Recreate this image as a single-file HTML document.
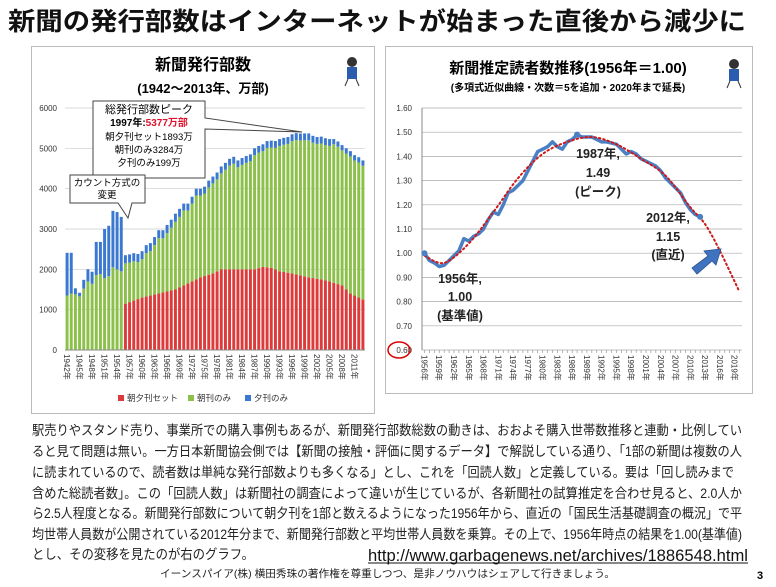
<!DOCTYPE html>
<html><head><meta charset="utf-8"><style>
body{margin:0;background:#fff;}
svg{display:block;font-family:"Liberation Sans","Noto Sans CJK JP",sans-serif;}
</style></head><body>
<svg id="s" width="776" height="587" viewBox="0 0 776 587" xmlns="http://www.w3.org/2000/svg">
<text x="8" y="30" font-size="25" font-weight="bold" textLength="738" lengthAdjust="spacingAndGlyphs" fill="#111">新聞の発行部数はインターネットが始まった直後から減少に</text>
<rect x="31.5" y="46.5" width="343" height="367" fill="#fff" stroke="#bbb"/>
<rect x="385.5" y="46.5" width="367" height="347" fill="#fff" stroke="#bbb"/>
<text x="203" y="70" font-size="16" font-weight="bold" text-anchor="middle">新聞発行部数</text>
<text x="203" y="93" font-size="13" font-weight="bold" text-anchor="middle">(1942〜2013年、万部)</text>
<text x="568" y="73" font-size="15" font-weight="bold" text-anchor="middle">新聞推定読者数推移(1956年＝1.00)</text>
<text x="568" y="91" font-size="10" font-weight="bold" text-anchor="middle">(多項式近似曲線・次数＝5を追加・2020年まで延長)</text>
<g id="L"></g><g id="R"></g>
<g transform="translate(352,72)"><circle cx="0" cy="-10" r="5" fill="#333"/><rect x="-5" y="-5" width="10" height="12" fill="#2a5db0"/><line x1="-4" y1="7" x2="-7" y2="14" stroke="#333"/><line x1="4" y1="7" x2="7" y2="14" stroke="#333"/></g>
<g transform="translate(734,74)"><circle cx="0" cy="-10" r="5" fill="#333"/><rect x="-5" y="-5" width="10" height="12" fill="#2a5db0"/><line x1="-4" y1="7" x2="-7" y2="14" stroke="#333"/><line x1="4" y1="7" x2="7" y2="14" stroke="#333"/></g>
<g font-size="13.5" fill="#222">
<text x="32" y="435" textLength="710" lengthAdjust="spacingAndGlyphs">駅売りやスタンド売り、事業所での購入事例もあるが、新聞発行部数総数の動きは、おおよそ購入世帯数推移と連動・比例してい</text>
<text x="32" y="456" textLength="710" lengthAdjust="spacingAndGlyphs">ると見て問題は無い。一方日本新聞協会側では【新聞の接触・評価に関するデータ】で解説している通り、「1部の新聞は複数の人</text>
<text x="32" y="477" textLength="702" lengthAdjust="spacingAndGlyphs">に読まれているので、読者数は単純な発行部数よりも多くなる」とし、これを「回読人数」と定義している。要は「回し読みまで</text>
<text x="32" y="498" textLength="710" lengthAdjust="spacingAndGlyphs">含めた総読者数」。この「回読人数」は新聞社の調査によって違いが生じているが、各新聞社の試算推定を合わせ見ると、2.0人か</text>
<text x="32" y="518" textLength="710" lengthAdjust="spacingAndGlyphs">ら2.5人程度となる。新聞発行部数について朝夕刊を1部と数えるようになった1956年から、直近の「国民生活基礎調査の概況」で平</text>
<text x="32" y="539" textLength="710" lengthAdjust="spacingAndGlyphs">均世帯人員数が公開されている2012年分まで、新聞発行部数と平均世帯人員数を乗算。その上で、1956年時点の結果を1.00(基準値)</text>
<text x="32" y="559" textLength="222" lengthAdjust="spacingAndGlyphs">とし、その変移を見たのが右のグラフ。</text>
</g>
<text x="368" y="561" font-size="17" textLength="380" lengthAdjust="spacingAndGlyphs" fill="#111">http://www.garbagenews.net/archives/1886548.html</text>
<line x1="368" y1="563" x2="748" y2="563" stroke="#111"/>
<text x="160" y="577" font-size="10.5" textLength="455" lengthAdjust="spacingAndGlyphs" fill="#222">イーンスパイア(株) 横田秀珠の著作権を尊重しつつ、是非ノウハウはシェアして行きましょう。</text>
<text x="757" y="579" font-size="11" font-weight="bold">3</text>
</svg>
<script>
const NS="http://www.w3.org/2000/svg";
function el(p,t,a,txt){const e=document.createElementNS(NS,t);for(const k in a)e.setAttribute(k,a[k]);if(txt!==undefined)e.textContent=txt;p.appendChild(e);return e;}
const L=document.getElementById('L'),R=document.getElementById('R');
const x0=65,x1=365,y0=350,yt=108,sc=(y0-yt)/6000;
for(let v=0;v<=6000;v+=1000){const y=y0-v*sc;el(L,'line',{x1:x0,x2:x1,y1:y,y2:y,stroke:'#ccc','stroke-width':0.7});el(L,'text',{x:57,y:y+3,'font-size':8,'text-anchor':'end',fill:'#333'},v);}
const pre=[[1350,1060],[1400,1010],[1380,150],[1330,90],[1520,220],[1700,300],[1640,300],[1860,820],[1880,800],[1780,1220],[1830,1250],[2050,1400],[2000,1420],[1950,1350]];
const tot=[2350,2370,2400,2380,2450,2600,2650,2800,2970,2970,3100,3230,3380,3500,3630,3630,3800,4000,4000,4050,4200,4300,4400,4550,4640,4740,4790,4700,4760,4810,4850,5000,5060,5100,5180,5190,5180,5230,5260,5280,5350,5377,5367,5370,5370,5310,5280,5290,5250,5230,5230,5170,5080,5000,4930,4830,4780,4700];
const rk=[[1956,1150],[1960,1300],[1964,1400],[1968,1500],[1971,1650],[1974,1800],[1977,1900],[1979,2000],[1987,2000],[1989,2060],[1991,2040],[1993,1950],[1996,1900],[1998,1850],[2000,1800],[2003,1750],[2005,1700],[2008,1600],[2010,1400],[2012,1300],[2013,1250]];
function red(y){for(let i=0;i<rk.length-1;i++){if(y>=rk[i][0]&&y<=rk[i+1][0]){const t=(y-rk[i][0])/(rk[i+1][0]-rk[i][0]);return rk[i][1]+t*(rk[i+1][1]-rk[i][1]);}}return 1250;}
const sw=(x1-x0)/72;
for(let i=0;i<72;i++){const yr=1942+i,bx=x0+i*sw+0.6,bw=sw-1.2;let segs;
 if(i<14)segs=[[pre[i][0],'#8cc04b'],[pre[i][1],'#3b78d0']];
 else{const T=tot[i-14],r=red(yr),b=yr<1970?200:(yr>2005?130:170);segs=[[r,'#dd3b3b'],[T-r-b,'#8cc04b'],[b,'#3b78d0']];}
 let acc=0;for(const [v,c] of segs){el(L,'rect',{x:bx,y:y0-(acc+v)*sc,width:bw,height:v*sc,fill:c});acc+=v;}
 if(i%3==0)el(L,'text',{transform:`translate(${bx+bw/2-3},${y0+4}) rotate(90)`,'font-size':8,fill:'#333'},yr+'年');
}
el(L,'line',{x1:x0,x2:x1,y1:y0,y2:y0,stroke:'#888'});
[['#dd3b3b',118,'朝夕刊セット'],['#8cc04b',188,'朝刊のみ'],['#3b78d0',245,'夕刊のみ']].forEach(([c,x,t])=>{el(L,'rect',{x:x,y:395,width:6,height:6,fill:c});el(L,'text',{x:x+9,y:401,'font-size':8.5,fill:'#333'},t);});
el(L,'path',{d:'M93 101 H205 V118 L302 132 L205 129 V178 H93 Z',fill:'#fff',stroke:'#444','stroke-width':1});
el(L,'text',{x:149,y:113,'font-size':11,'text-anchor':'middle'},'総発行部数ピーク');
const t2=el(L,'text',{x:149,y:126,'font-size':10,'text-anchor':'middle','font-weight':'bold'},'1997年:');
el(t2,'tspan',{fill:'#e0102a'},'5377万部');
el(L,'text',{x:149,y:140,'font-size':9.5,'text-anchor':'middle'},'朝夕刊セット1893万');
el(L,'text',{x:149,y:153,'font-size':9.5,'text-anchor':'middle'},'朝刊のみ3284万');
el(L,'text',{x:149,y:166,'font-size':9.5,'text-anchor':'middle'},'夕刊のみ199万');
el(L,'path',{d:'M70 175 H145 V203 H132 L128 218 L118 203 H70 Z',fill:'#fff',stroke:'#444','stroke-width':1});
el(L,'text',{x:107,y:186,'font-size':9.5,'text-anchor':'middle'},'カウント方式の');
el(L,'text',{x:107,y:198,'font-size':9.5,'text-anchor':'middle'},'変更');
const rx0=422,rx1=742,ry0=350,ryt=108,rsc=(ry0-ryt)/1.0,rw=(rx1-rx0)/65;
for(let k=0;k<=10;k++){const v=0.6+k*0.1,y=ry0-(v-0.6)*rsc;el(R,'line',{x1:rx0,x2:rx1,y1:y,y2:y,stroke:'#aaa','stroke-width':0.7});el(R,'text',{x:412,y:y+3,'font-size':8,'text-anchor':'end',fill:'#333'},v.toFixed(2));}
el(R,'line',{x1:rx0,x2:rx0,y1:ryt,y2:ry0,stroke:'#888'});
el(R,'ellipse',{cx:399,cy:350,rx:11,ry:8,fill:'none',stroke:'#d00','stroke-width':1.5});
for(let i=0;i<65;i++){const x=rx0+i*rw+rw/2;el(R,'line',{x1:x,x2:x,y1:ry0,y2:ry0+3,stroke:'#888','stroke-width':0.6});if(i%3==0)el(R,'text',{transform:`translate(${x-3},${ry0+5}) rotate(90)`,'font-size':8,fill:'#333'},(1956+i)+'年');}
const d=[1.00,0.97,0.96,0.945,0.95,0.97,0.99,1.01,1.06,1.05,1.07,1.08,1.10,1.14,1.17,1.16,1.20,1.25,1.26,1.28,1.30,1.34,1.38,1.42,1.43,1.44,1.46,1.44,1.43,1.46,1.47,1.49,1.48,1.48,1.48,1.47,1.46,1.46,1.455,1.45,1.43,1.41,1.42,1.41,1.39,1.38,1.37,1.36,1.34,1.31,1.29,1.27,1.25,1.21,1.18,1.16,1.15];
const px=i=>rx0+i*rw+rw/2,py=v=>ry0-(v-0.6)*rsc;
const tr=[[0,0.99],[4,0.96],[9,1.04],[14,1.17],[19,1.31],[24,1.41],[29,1.46],[34,1.48],[39,1.45],[44,1.39],[49,1.32],[54,1.19],[57,1.12],[60,1.01],[64,0.84]];
let pts=[];for(let j=0;j<tr.length-1;j++){const p0=tr[Math.max(0,j-1)],p1=tr[j],p2=tr[j+1],p3=tr[Math.min(tr.length-1,j+2)];for(let t=0;t<0.999;t+=0.1){const tt=t*t,ttt=tt*t;const f=k=>0.5*((2*p1[k])+(-p0[k]+p2[k])*t+(2*p0[k]-5*p1[k]+4*p2[k]-p3[k])*tt+(-p0[k]+3*p1[k]-3*p2[k]+p3[k])*ttt);pts.push(px(f(0)).toFixed(1)+','+py(f(1)).toFixed(1));}}
pts.push(px(64)+','+py(0.84));
el(R,'polyline',{points:d.map((v,i)=>px(i)+','+py(v)).join(' '),fill:'none',stroke:'#4a7fc4','stroke-width':3.5,'stroke-linejoin':'round'});
el(R,'polyline',{points:pts.join(' '),fill:'none',stroke:'#d01818','stroke-width':2,'stroke-dasharray':'1.5,3','stroke-linecap':'round'});
[[0,1.0],[31,1.49],[56,1.15]].forEach(([i,v])=>el(R,'circle',{cx:px(i),cy:py(v),r:3,fill:'#4a7fc4'}));
[[598,158,'1987年,'],[598,177,'1.49'],[598,196,'(ピーク)'],[668,222,'2012年,'],[668,241,'1.15'],[668,259,'(直近)'],[460,283,'1956年,'],[460,301,'1.00'],[460,320,'(基準値)']].forEach(([x,y,t])=>el(R,'text',{x:x,y:y,'font-size':12.5,'font-weight':'bold','text-anchor':'middle',fill:'#222'},t));
el(R,'path',{d:'M692 268 L708 256 L704 251 L721 249 L716 265 L712 261 L697 274 Z',fill:'#3f72bf',stroke:'#2a558f','stroke-width':0.8});
</script>
</body></html>
